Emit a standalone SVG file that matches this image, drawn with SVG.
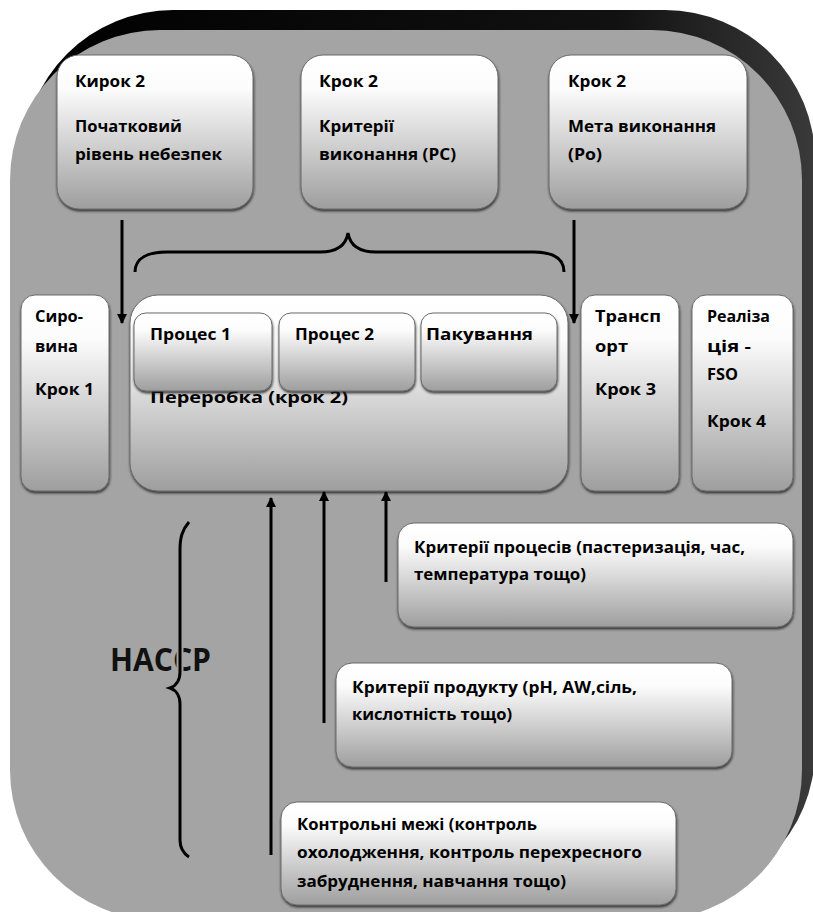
<svg xmlns="http://www.w3.org/2000/svg" width="813" height="912" viewBox="0 0 813 912">
<defs>
<linearGradient id="box" x1="0" y1="0" x2="0" y2="1">
<stop offset="0" stop-color="#ffffff"/>
<stop offset="0.22" stop-color="#fcfcfc"/>
<stop offset="1" stop-color="#9e9e9e"/>
</linearGradient>
<linearGradient id="shade" x1="0" y1="0" x2="1" y2="0">
<stop offset="0" stop-color="#000"/>
<stop offset="0.75" stop-color="#111"/>
<stop offset="1" stop-color="#3a3a3a"/>
</linearGradient>
<filter id="ds" x="-10%" y="-10%" width="120%" height="125%">
<feDropShadow dx="0.5" dy="2" stdDeviation="1.2" flood-color="#222" flood-opacity="0.8"/>
</filter>
<marker id="ah" viewBox="0 0 10 10" refX="9" refY="5" markerWidth="10" markerHeight="10" markerUnits="userSpaceOnUse" orient="auto">
<path d="M0,0 L10,5 L0,10 z" fill="#000"/>
</marker>
<style>
.b{fill:url(#box);stroke:#6a6a6a;stroke-width:1;filter:url(#ds)}
.t{font-family:"Open Sans","Noto Sans","DejaVu Sans",sans-serif;font-weight:700;font-size:16.5px;fill:#000}
.c{fill:none;stroke:#000;stroke-width:3}
.a{fill:none;stroke:#000;stroke-width:3;marker-end:url(#ah)}
</style>
</defs>
<g id="background">
<rect x="23" y="10" width="792" height="890" rx="150" fill="url(#shade)"/>
<rect x="10" y="30" width="792" height="890" rx="150" fill="#a4a4a4"/>
</g>
<g id="n-initial"><rect class="b" x="57" y="55" width="196" height="154" rx="22"/>
<text class="t" x="75" y="87" textLength="70" lengthAdjust="spacingAndGlyphs">Кирок 2</text><text class="t" x="75" y="132" textLength="107" lengthAdjust="spacingAndGlyphs">Початковий</text><text class="t" x="75" y="160" textLength="147" lengthAdjust="spacingAndGlyphs">рівень небезпек</text></g>
<g id="n-pc"><rect class="b" x="301" y="55" width="197" height="154" rx="22"/>
<text class="t" x="319" y="87" textLength="59" lengthAdjust="spacingAndGlyphs">Крок 2</text><text class="t" x="319" y="132" textLength="75" lengthAdjust="spacingAndGlyphs">Критерії</text><text class="t" x="319" y="160" textLength="137" lengthAdjust="spacingAndGlyphs">виконання (РС)</text></g>
<g id="n-po"><rect class="b" x="549" y="55" width="198" height="154" rx="22"/>
<text class="t" x="568" y="87" textLength="58" lengthAdjust="spacingAndGlyphs">Крок 2</text><text class="t" x="568" y="132" textLength="148" lengthAdjust="spacingAndGlyphs">Мета виконання</text><text class="t" x="568" y="160" textLength="34" lengthAdjust="spacingAndGlyphs">(Ро)</text></g>
<g id="n-raw"><rect class="b" x="21" y="295" width="88" height="196" rx="14"/>
<text class="t" x="35" y="322" textLength="48" lengthAdjust="spacingAndGlyphs">Сиро-</text><text class="t" x="35" y="352" textLength="43" lengthAdjust="spacingAndGlyphs">вина</text><text class="t" x="35" y="395" textLength="59" lengthAdjust="spacingAndGlyphs">Крок 1</text></g>
<g id="n-processing"><rect class="b" x="130" y="295" width="438" height="196" rx="28"/>
<text class="t" x="150" y="403" textLength="198" lengthAdjust="spacingAndGlyphs">Переробка (крок 2)</text></g>
<g id="n-p1"><rect class="b" x="134" y="313" width="138" height="78" rx="12"/><text class="t" x="150" y="340" textLength="81" lengthAdjust="spacingAndGlyphs">Процес 1</text></g>
<g id="n-p2"><rect class="b" x="279" y="313" width="136" height="78" rx="12"/><text class="t" x="295" y="340" textLength="79" lengthAdjust="spacingAndGlyphs">Процес 2</text></g>
<g id="n-pack"><rect class="b" x="421" y="313" width="136" height="78" rx="12"/><text class="t" x="426" y="340" textLength="107" lengthAdjust="spacingAndGlyphs">Пакування</text></g>
<g id="n-transport"><rect class="b" x="581" y="295" width="98" height="196" rx="14"/>
<text class="t" x="595" y="322" textLength="66" lengthAdjust="spacingAndGlyphs">Трансп</text><text class="t" x="595" y="352" textLength="33" lengthAdjust="spacingAndGlyphs">орт</text><text class="t" x="595" y="395" textLength="61" lengthAdjust="spacingAndGlyphs">Крок 3</text></g>
<g id="n-fso"><rect class="b" x="692" y="295" width="101" height="196" rx="14"/>
<text class="t" x="707" y="322" textLength="63" lengthAdjust="spacingAndGlyphs">Реаліза</text><text class="t" x="707" y="352" textLength="44" lengthAdjust="spacingAndGlyphs">ція  -</text><text class="t" x="707" y="380" textLength="31" lengthAdjust="spacingAndGlyphs">FSO</text><text class="t" x="707" y="427" textLength="59" lengthAdjust="spacingAndGlyphs">Крок 4</text></g>
<g id="n-process-criteria"><rect class="b" x="398" y="523" width="395" height="104" rx="16"/>
<text class="t" x="414" y="553" textLength="331" lengthAdjust="spacingAndGlyphs">Критерії процесів (пастеризація, час,</text><text class="t" x="414" y="580" textLength="172" lengthAdjust="spacingAndGlyphs">температура тощо)</text></g>
<g id="n-product-criteria"><rect class="b" x="336" y="663" width="396" height="104" rx="16"/>
<text class="t" x="352" y="693" textLength="285" lengthAdjust="spacingAndGlyphs">Критерії продукту (pH, AW,сіль,</text><text class="t" x="352" y="720" textLength="160" lengthAdjust="spacingAndGlyphs">кислотність тощо)</text></g>
<g id="n-control-limits"><rect class="b" x="281" y="802" width="395" height="103" rx="16"/>
<text class="t" x="297" y="830" textLength="240" lengthAdjust="spacingAndGlyphs">Контрольні межі (контроль</text><text class="t" x="297" y="858" textLength="345" lengthAdjust="spacingAndGlyphs">охолодження, контроль перехресного</text><text class="t" x="297" y="887" textLength="269" lengthAdjust="spacingAndGlyphs">забруднення, навчання тощо)</text></g>
<g id="n-haccp"><text x="110" y="671" textLength="101" lengthAdjust="spacingAndGlyphs" style="font-family:'Open Sans','Noto Sans',sans-serif;font-weight:700;font-size:32px;fill:#111">HACCP</text></g>
<g id="connectors">
<path class="a" d="M122,220 L122,323"/>
<path class="a" d="M574,220 L574,323"/>
<path class="c" d="M135,272 C135,258 148,252 167,252 L320,252 C338,252 346,245 348,233 C350,245 358,252 376,252 L533,252 C552,252 564,258 564,272"/>
<path class="a" d="M271,855 L271,498"/>
<path class="a" d="M324,723 L324,492"/>
<path class="a" d="M386,582 L386,492"/>
<path d="M189,522 C182,530 180,538 180,550 L180,672 C180,680 176,686 170,688 C176,690 180,696 180,704 L180,840 C180,848 183,853 189,857" fill="none" stroke="#a4a4a4" stroke-width="7"/>
<path class="c" d="M189,522 C182,530 180,538 180,550 L180,672 C180,680 176,686 170,688 C176,690 180,696 180,704 L180,840 C180,848 183,853 189,857"/>
</g>
</svg>
